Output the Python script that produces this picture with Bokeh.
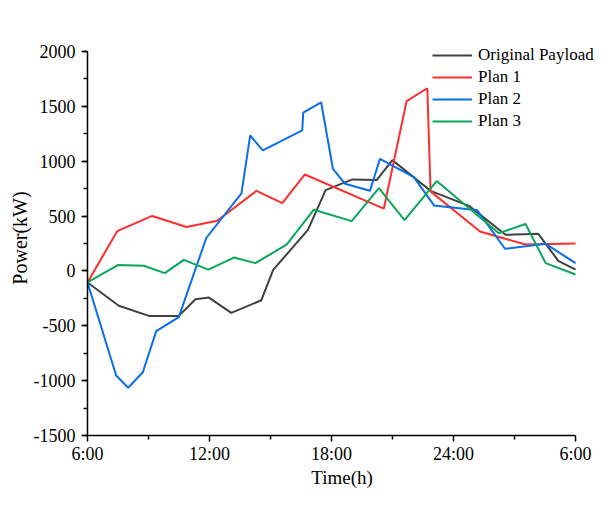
from bokeh.plotting import figure
from bokeh.models import (Range1d, FixedTicker, SingleIntervalTicker, Legend, LegendItem)
from bokeh.embed import file_html
from bokeh.resources import INLINE

# hours after 6:00
orig_t = [0, 1.54, 3.02, 4.49, 5.31, 5.97, 7.07, 8.55, 9.13, 10.84, 11.71, 13.02, 14.22, 14.99, 16.87, 18.76, 20.56, 22.17, 23.15, 24]
orig_v = [-105, -318, -410, -410, -258, -243, -383, -267, 9, 374, 736, 834, 828, 1010, 730, 593, 329, 338, 92, 12]

plan1_t = [0, 1.46, 3.18, 4.87, 6.38, 8.31, 9.58, 10.69, 14.57, 15.69, 16.71, 16.87, 19.3, 21.54, 24]
plan1_v = [-105, 362, 501, 400, 457, 730, 617, 879, 567, 1547, 1665, 725, 359, 240, 249]

plan2_t = [0, 1.41, 2.0, 2.72, 3.38, 4.49, 5.84, 7.57, 8.0, 8.62, 10.56, 10.61, 11.49, 12.07, 12.66, 13.89, 14.38, 16.05, 17.04, 19.17, 20.53, 22.53, 24]
plan2_v = [-105, -953, -1065, -923, -549, -421, 300, 706, 1235, 1098, 1280, 1443, 1537, 929, 795, 730, 1021, 855, 597, 552, 202, 247, 71]

plan3_t = [0, 1.49, 2.77, 3.8, 4.74, 5.94, 7.2, 8.26, 9.79, 11.13, 12.99, 14.33, 15.59, 17.17, 20.23, 21.54, 22.53, 24]
plan3_v = [-105, 53, 47, -20, 101, 12, 122, 71, 240, 558, 454, 754, 463, 819, 344, 427, 71, -33]

x_ticks = [0, 6, 12, 18, 24]
x_minor = [3, 9, 15, 21]
x_labels = ["6:00", "12:00", "18:00", "24:00", "6:00"]
y_neg_ticks = [-1500, -1000, -500]

series = [
    ("Original Payload", orig_t, orig_v, "#404040"),
    ("Plan 1", plan1_t, plan1_v, "#ff2e2e"),
    ("Plan 2", plan2_t, plan2_v, "#0a6ee8"),
    ("Plan 3", plan3_t, plan3_v, "#0aa65c"),
]

FONT = "Liberation Serif"

p = figure(width=596, height=490, output_backend="svg", toolbar_location=None,
           x_range=Range1d(0, 25.03), y_range=Range1d(-1500, 2100),
           min_border_left=87, min_border_top=40, min_border_right=0, min_border_bottom=55)
p.outline_line_color = None
p.xgrid.visible = False
p.ygrid.visible = False
p.background_fill_color = "white"
p.border_fill_color = "white"

items = []
for name, t, v, c in series:
    r = p.line(t, v, line_color=c, line_width=2)
    items.append(LegendItem(label=name, renderers=[r]))

p.xaxis.ticker = FixedTicker(ticks=x_ticks, minor_ticks=x_minor)
p.xaxis.major_label_overrides = {t: l for t, l in zip(x_ticks, x_labels)}
p.xaxis.bounds = (0, 24)
p.yaxis.ticker = SingleIntervalTicker(interval=500, num_minor_ticks=2)
p.yaxis.major_label_overrides = {t: "-" + str(abs(t)) for t in y_neg_ticks}
p.yaxis.bounds = (-1500, 2000)

for ax in (p.xaxis[0], p.yaxis[0]):
    ax.axis_line_color = "black"
    ax.axis_line_width = 1.5
    ax.major_tick_line_color = "black"
    ax.major_tick_line_width = 1.5
    ax.minor_tick_line_color = "black"
    ax.minor_tick_line_width = 1.5
    ax.major_tick_in = 0
    ax.major_tick_out = 6
    ax.minor_tick_in = 0
    ax.minor_tick_out = 4
    ax.major_label_text_font = FONT
    ax.major_label_text_font_size = "18px"
    ax.major_label_text_color = "black"
    ax.axis_label_text_font = FONT
    ax.axis_label_text_font_style = "normal"
    ax.axis_label_text_color = "black"

p.xaxis.axis_label = "Time(h)"
p.yaxis.axis_label = "Power(kW)"
p.xaxis.axis_label_text_font_size = "19px"
p.yaxis.axis_label_text_font_size = "20px"
p.xaxis.major_label_standoff = 2
p.yaxis.major_label_standoff = 6
p.xaxis.axis_label_standoff = 0
p.yaxis.axis_label_standoff = 0

legend = Legend(items=items, location=(345, 303), orientation="vertical",
                label_text_font=FONT, label_text_font_size="17px",
                label_text_color="black",
                glyph_width=40, glyph_height=22, label_height=22,
                label_standoff=6, spacing=0, padding=0, margin=0,
                background_fill_alpha=0, border_line_color=None)
p.add_layout(legend, "center")

open("out.html", "w").write(file_html(p, INLINE))
